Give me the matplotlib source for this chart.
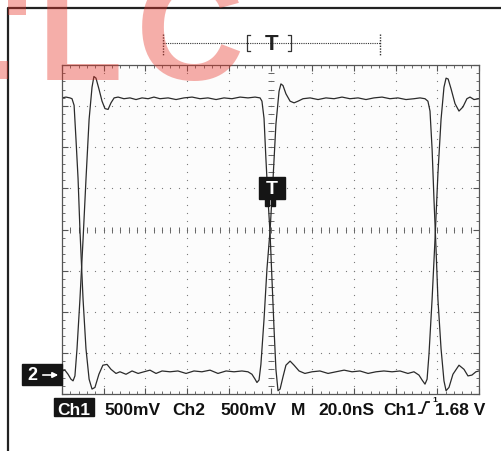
import numpy as np
import matplotlib.pyplot as plt
from matplotlib.patches import Rectangle, FancyArrowPatch
from matplotlib.lines import Line2D

W, H = 501, 452

# screen: 20 ns/div horizontally, 500 mV/div vertically, trigger at centre
ch1_t = [-100.0, -98.1, -96.2, -95.2, -94.2, -93.3, -92.3, -91.4, -89.9, -88.5, -87.0, -85.6,
         -84.2, -82.3, -80.4, -78.4, -76.5, -74.1, -72.2, -69.3, -66.4, -63.5, -60.7, -57.8,
         -54.9, -52.0, -48.2, -44.4, -40.5, -36.7, -32.9, -29.0, -25.2, -21.3, -17.5, -13.7,
         -10.8, -8.9, -7.4, -6.5, -5.5, -4.6, -3.1, -1.7, -0.2, 1.2, 2.6, 4.1, 5.0, 6.0, 7.4,
         9.4, 11.3, 13.2, 15.6, 19.0, 22.8, 26.6, 30.5, 34.3, 38.1, 42.0, 45.8, 49.6, 53.5,
         57.3, 61.1, 65.0, 68.8, 71.7, 74.1, 75.5, 76.5, 77.5, 78.4, 79.4, 80.3, 81.8, 83.2,
         84.2, 85.6, 87.5, 90.4, 92.8, 94.7, 96.6, 98.5, 100.0]
ch1_v = [1.60, 1.61, 1.60, 1.59, 1.51, 1.10, 0.62, 0.00, -0.85, -1.45, -1.82, -1.94,
         -1.92, -1.76, -1.65, -1.64, -1.70, -1.75, -1.73, -1.76, -1.72, -1.75, -1.73, -1.71,
         -1.75, -1.72, -1.73, -1.72, -1.75, -1.72, -1.73, -1.71, -1.75, -1.72, -1.73, -1.72,
         -1.73, -1.76, -1.82, -1.86, -1.83, -1.64, -1.09, -0.48, -0.01, 0.61, 1.28, 1.68, 1.77,
         1.75, 1.65, 1.56, 1.54, 1.56, 1.59, 1.60, 1.58, 1.60, 1.59, 1.61, 1.59, 1.60, 1.58,
         1.60, 1.61, 1.59, 1.60, 1.58, 1.59, 1.60, 1.59, 1.56, 1.44, 0.98, 0.37, -0.24, -0.85,
         -1.45, -1.84, -1.96, -1.92, -1.76, -1.65, -1.70, -1.78, -1.77, -1.73, -1.72]

ch2_t = [-100.0, -98.6, -97.1, -95.7, -94.7, -93.8, -92.8, -91.4, -89.9, -88.5, -87.0, -85.6,
         -84.7, -83.7, -82.3, -80.8, -79.4, -77.9, -76.5, -75.0, -73.1, -70.3, -67.4, -64.5,
         -61.6, -58.7, -55.9, -53.0, -49.1, -45.3, -41.5, -37.6, -33.8, -30.0, -26.1, -22.3,
         -18.5, -14.6, -10.8, -7.4, -5.0, -4.1, -3.1, -2.2, -1.2, -0.2, 0.7, 1.7, 2.6, 3.6,
         4.6, 6.0, 7.4, 9.4, 11.3, 13.7, 16.5, 19.9, 23.7, 27.6, 31.4, 35.3, 39.1, 42.9, 46.8,
         50.6, 54.4, 58.3, 62.1, 65.9, 68.8, 71.2, 72.7, 74.1, 75.1, 76.0, 77.5, 78.9, 80.3,
         81.8, 83.2, 84.2, 85.2, 86.6, 88.5, 90.4, 92.3, 94.2, 95.7, 97.6, 100.0]
ch2_v = [-1.72, -1.71, -1.76, -1.82, -1.84, -1.78, -1.45, -0.85, -0.12, 0.61, 1.34, 1.73,
         1.86, 1.84, 1.71, 1.56, 1.47, 1.46, 1.54, 1.60, 1.61, 1.59, 1.60, 1.58, 1.60, 1.59,
         1.61, 1.59, 1.60, 1.58, 1.60, 1.61, 1.59, 1.60, 1.58, 1.60, 1.59, 1.61, 1.60, 1.61,
         1.60, 1.56, 1.35, 0.86, 0.37, -0.05, -0.60, -1.21, -1.70, -1.96, -1.94, -1.79, -1.65,
         -1.60, -1.65, -1.72, -1.75, -1.73, -1.72, -1.75, -1.73, -1.71, -1.73, -1.72, -1.75,
         -1.73, -1.72, -1.73, -1.72, -1.75, -1.73, -1.77, -1.83, -1.88, -1.82, -1.52, -0.85,
         -0.12, 0.68, 1.34, 1.73, 1.84, 1.83, 1.71, 1.53, 1.44, 1.49, 1.59, 1.61, 1.58, 1.59]

readout = [('500mV', 104), ('Ch2', 172), ('500mV', 220), ('M', 291),
           ('20.0nS', 318), ('Ch1', 383), ('1.68 V', 435)]

fig = plt.figure(figsize=(W / 100, H / 100), dpi=100)
fig.patch.set_facecolor('white')


def fx(px):
    return px / W


def fy(py):
    return 1 - py / H


ax = fig.add_axes([fx(62), fy(395), (479 - 62) / W, (395 - 66) / H])
ax.set_xlim(-100, 100)
ax.set_ylim(-2, 2)
ax.set_facecolor('#fcfcfc')
for s in ax.spines.values():
    s.set_color('#555555')
    s.set_linewidth(0.9)

gx = np.arange(-100, 101, 20)
gy = np.arange(-2, 2.01, 0.5)
mx = np.arange(-100, 101, 4)
my = np.arange(-2, 2.01, 0.1)
ax.set_xticks(gx)
ax.set_yticks(gy)
ax.set_xticks(mx, minor=True)
ax.set_yticks(my, minor=True)
ax.tick_params(which='both', direction='in', top=True, right=True,
               labelbottom=False, labelleft=False, color='#555555')
ax.tick_params(which='major', length=4, width=0.8)
ax.tick_params(which='minor', length=2.5, width=0.6)

# dotted graticule
X1, Y1 = np.meshgrid(mx, gy[1:-1])
X2, Y2 = np.meshgrid(gx[1:-1], my)
ax.scatter(X1.ravel(), Y1.ravel(), s=0.8, c='#777777', lw=0)
ax.scatter(X2.ravel(), Y2.ravel(), s=0.8, c='#777777', lw=0)
ax.plot(mx, np.zeros_like(mx), ls='none', marker='|', ms=4, mew=0.7, color='#666666')
ax.plot(np.zeros_like(my), my, ls='none', marker='_', ms=4, mew=0.7, color='#666666')

ax.plot(ch1_t, ch1_v, color='#2b2b2b', lw=0.9)
ax.plot(ch2_t, ch2_v, color='#2b2b2b', lw=0.9)

# outer frame
fig.add_artist(Line2D([fx(8), fx(8), fx(501)], [fy(452), fy(9), fy(9)],
                      color='#222222', lw=1.6))

# trigger position bar at top
fig.add_artist(Line2D([fx(163), fx(380)], [fy(44), fy(44)], color='#333333', lw=0.8, ls=(0, (1, 1))))
for xb in (163, 380):
    fig.add_artist(Line2D([fx(xb), fx(xb)], [fy(35), fy(56)], color='#333333', lw=1.0, ls=(0, (1, 1))))
fig.add_artist(Line2D([fx(250), fx(247), fx(247), fx(250)], [fy(36), fy(36), fy(52), fy(52)],
                      color='#333333', lw=0.9))
fig.add_artist(Line2D([fx(288), fx(291), fx(291), fx(288)], [fy(36), fy(36), fy(52), fy(52)],
                      color='#333333', lw=0.9))
fig.text(fx(272), fy(44), 'T', ha='center', va='center', fontsize=16, fontweight='bold',
         family='Liberation Sans', color='#222222')

# trigger marker on screen
fig.add_artist(Rectangle((fx(259), fy(200)), 26 / W, 22 / H, color='#151515', zorder=5))
fig.add_artist(Rectangle((fx(265), fy(207)), 4 / W, 7 / H, color='#151515', zorder=5))
fig.add_artist(Rectangle((fx(271), fy(207)), 4 / W, 7 / H, color='#151515', zorder=5))
fig.text(fx(272), fy(189.5), 'T', ha='center', va='center', fontsize=14, fontweight='bold',
         family='Liberation Sans', color='white', zorder=6)

# channel 2 ground marker
fig.add_artist(Rectangle((fx(22), fy(386)), 40 / W, 21 / H, color='#151515', zorder=5))
fig.text(fx(27), fy(376), '2', ha='left', va='center', fontsize=13, fontweight='bold',
         family='Liberation Sans', color='white', zorder=6)
fig.add_artist(FancyArrowPatch((fx(40), fy(376)), (fx(61), fy(376)), transform=fig.transFigure,
                               arrowstyle='-|>', mutation_scale=8, color='white', lw=1.2, zorder=6))

# readout line
fig.add_artist(Rectangle((fx(54), fy(417)), 40 / W, 18 / H, color='#151515', zorder=5))
fig.text(fx(57), fy(415), 'Ch1', ha='left', va='baseline', fontsize=12.5, fontweight='bold',
         family='Liberation Sans', color='white', zorder=6)
for txt, xp in readout:
    fig.text(fx(xp), fy(415), txt, ha='left', va='baseline', fontsize=12.5, fontweight='bold',
             family='Liberation Sans', color='#111111')
fig.add_artist(Line2D([fx(419), fx(422), fx(426), fx(429)], [fy(414), fy(414), fy(403), fy(403)],
                      color='#111111', lw=1.3))
fig.text(fx(435), fy(400), '1', ha='center', va='center', fontsize=6, fontweight='bold',
         family='Liberation Sans', color='#111111')

# watermark
wm = dict(color='#e8362a', alpha=0.4, zorder=10)
fig.text(fx(38), fy(80), 'L', ha='left', va='baseline', fontsize=100, fontweight='bold',
         family='Liberation Sans', **wm)
fig.text(fx(136), fy(80), 'C', ha='left', va='baseline', fontsize=108, fontweight='bold',
         family='Liberation Sans', **wm)
fig.add_artist(Rectangle((fx(8), fy(16)), 18 / W, 16 / H, lw=0, **wm))
fig.add_artist(Rectangle((fx(0), fy(80)), 8 / W, 18 / H, lw=0, **wm))

fig.savefig('out.png', dpi=100)
